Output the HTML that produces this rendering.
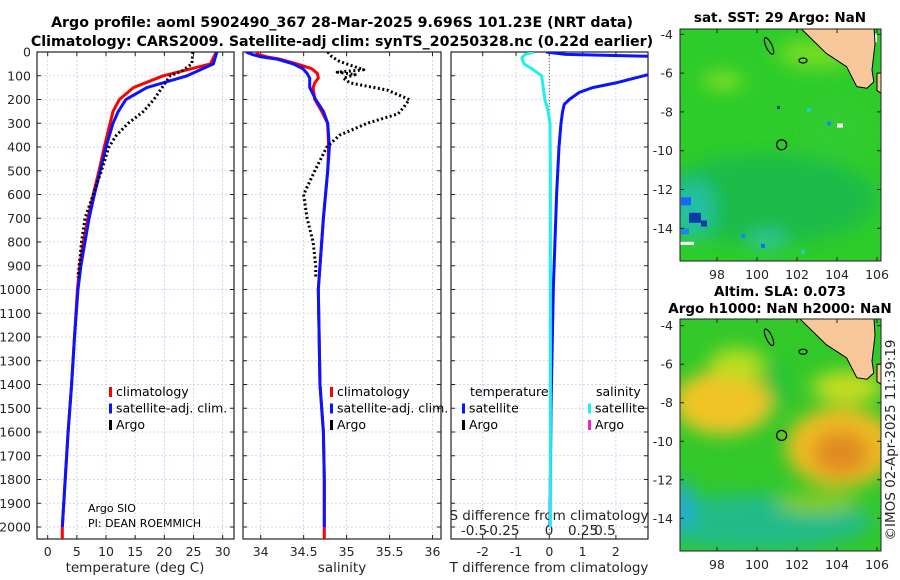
<!DOCTYPE html>
<html><head><meta charset="utf-8"><style>
body{margin:0;background:#fff;}
svg{display:block;font-family:"DejaVu Sans","Liberation Sans",sans-serif;}
.t{font-size:12.5px;fill:#262626;}
.ta{font-size:13.5px;fill:#262626;}
.ti{font-size:13.5px;font-weight:bold;fill:#000;}
.tm{font-size:14.2px;font-weight:bold;fill:#000;}
.lg{font-size:12.5px;fill:#000;}
</style></head><body>
<svg id="s" width="900" height="580" viewBox="0 0 900 580">
<defs>
<clipPath id="c1"><rect x="37" y="52" width="197" height="487"/></clipPath>
<clipPath id="c2"><rect x="243" y="52" width="198" height="487"/></clipPath>
<clipPath id="c3"><rect x="451" y="52" width="197" height="487"/></clipPath>
<clipPath id="m1"><rect x="680" y="29" width="201" height="232"/></clipPath>
<clipPath id="m2"><rect x="680" y="319" width="201" height="232"/></clipPath>
<filter id="bl" x="-50%" y="-50%" width="200%" height="200%"><feGaussianBlur stdDeviation="9"/></filter>
</defs>
<text class="tm" x="342" y="27" text-anchor="middle">Argo profile: aoml 5902490_367 28-Mar-2025 9.696S 101.23E (NRT data)</text>
<text class="tm" x="342" y="46" text-anchor="middle">Climatology: CARS2009. Satellite-adj clim: synTS_20250328.nc (0.22d earlier)</text>
<g id="g"></g>
</svg>
<script>
// ---- profile data ----
const depthT = [0,50,100,150,200,250,300,400,500,600,700,800,900,1000,1200,1400,1600,1800,2000,2050];
const climT  = [28.9,27.9,19.8,14.7,12.3,11.2,10.7,9.7,8.8,7.8,6.9,6.1,5.5,5.1,4.6,4.1,3.5,3.0,2.5,2.5];
const satT   = [29.0,28.4,23.9,17.0,13.4,12.1,11.2,10.0,9.0,8.0,7.1,6.4,5.7,5.2,4.6,4.1,3.5,3.0,2.5,2.5];
const depthArgoT = [0,50,80,100,150,200,250,300,350,400,500,600,700,800,900,950];
const argoT  = [24.9,24.7,23.0,21.0,19.6,18.2,16.4,13.8,11.8,10.5,9.2,7.8,6.4,5.8,5.4,5.2];
const depthS = [0,10,20,30,50,70,90,110,130,150,200,250,300,400,500,700,1000,1400,1600,1800,2000,2050];
const climS  = [33.95,33.97,34.07,34.22,34.42,34.59,34.66,34.67,34.63,34.61,34.63,34.71,34.78,34.79,34.78,34.73,34.67,34.69,34.73,34.74,34.74,34.74];
const satS   = [33.83,33.9,34.0,34.19,34.38,34.49,34.54,34.57,34.57,34.57,34.64,34.73,34.78,34.8,34.78,34.73,34.67,34.69,34.73,34.74,34.74,34.74];
const depthArgoS = [0,20,40,60,75,85,95,110,130,160,200,230,260,300,350,400,500,600,700,800,900,950];
const argoS  = [34.78,34.83,34.92,35.08,35.2,34.89,35.1,34.96,35.04,35.47,35.73,35.67,35.6,35.24,34.92,34.77,34.63,34.5,34.54,34.61,34.64,34.64];
const depthD = [0,10,20,40,130,150,170,200,220,250,300,400,600,1000,1500,2000];
const tDiff  = [-0.1,0.5,3.6,4.5,2.0,1.3,0.9,0.6,0.45,0.4,0.35,0.29,0.22,0.12,0.05,0.02];
const depthSD = [0,10,25,50,70,100,200,250,300,500,1000,2000];
const sDiff  = [-0.145,-0.22,-0.25,-0.23,-0.16,-0.07,-0.04,-0.01,0.006,0.01,0.01,0.01];
const yTicks = [0,100,200,300,400,500,600,700,800,900,1000,1100,1200,1300,1400,1500,1600,1700,1800,1900,2000];
const tTicks = [0,5,10,15,20,25,30];
const sTicks = [34,34.5,35,35.5,36];
const dTicks = [-2,-1,0,1,2];
const sdTickLabels = ['-0.5','-0.25','0','0.25','0.5'];
const sdTicks = [-0.5,-0.25,0,0.25,0.5];
const lonTicks = [98,100,102,104,106];
const latTicks = [-4,-6,-8,-10,-12,-14];
const argoLon = [101.23], argoLat = [-9.696];

const yD = d => 52 + d*0.2375;
const xT = t => 47.7 + t*5.833;
const xS = s => 260.7 + (s-34)*85.9;
const xD = v => 549.3 + v*33.3;
const xSD = v => 549.3 + v*110;
const NS='http://www.w3.org/2000/svg';
const G=document.getElementById('g');
function mk(tag,attrs,parent){const e=document.createElementNS(NS,tag);for(const k in attrs)e.setAttribute(k,attrs[k]);(parent||G).appendChild(e);return e;}
function txt(x,y,s,cls,anchor,parent){const e=mk('text',{x:x,y:y,class:cls,'text-anchor':anchor||'start'},parent);e.textContent=s;return e;}

const panels=[{x0:37,x1:234,xs:xT,ticks:tTicks,clip:'c1',name:'temperature-panel'},
              {x0:243,x1:441,xs:xS,ticks:sTicks,clip:'c2',name:'salinity-panel'},
              {x0:451,x1:648,xs:xD,ticks:dTicks,clip:'c3',name:'difference-panel'}];
panels.forEach(p=>{
  const pg=mk('g',{});
  
  
  yTicks.forEach(d=>{mk('line',{x1:p.x0,x2:p.x1,y1:yD(d),y2:yD(d),stroke:'#c9c9ee','stroke-width':0.8,'stroke-dasharray':'2,2'},pg);
    mk('line',{x1:p.x0,x2:p.x0+4,y1:yD(d),y2:yD(d),stroke:'#222'},pg);mk('line',{x1:p.x1-4,x2:p.x1,y1:yD(d),y2:yD(d),stroke:'#222'},pg);});
  p.ticks.forEach(v=>{const x=p.xs(v);mk('line',{x1:x,x2:x,y1:52,y2:539,stroke:'#c9c9ee','stroke-width':0.8,'stroke-dasharray':'2,2'},pg);
    mk('line',{x1:x,x2:x,y1:535,y2:539,stroke:'#222'},pg);mk('line',{x1:x,x2:x,y1:52,y2:56,stroke:'#222'},pg);
    const l=txt(x,556,String(v),'t','middle',pg);
    
    });
  mk('rect',{x:p.x0,y:52,width:p.x1-p.x0,height:487,fill:'none',stroke:'#222','stroke-width':1.2},pg);
});
yTicks.forEach(d=>{const l=txt(31,yD(d)+4.5,String(d),'t','end');
  
  });
[['temperature (deg C)',135],['salinity',342],['T difference from climatology',549]].forEach(a=>{
  const l=txt(a[1],572,a[0],'ta','middle');
  
  });
const st=txt(549,520,'S difference from climatology','ta','middle');


sdTicks.forEach((v,i)=>{const xs=[474,502,549,583,605];const l=txt(xs[i],535,sdTickLabels[i],'ta','middle');
  
  });

function line(xs,vals,depths,color,w,dash,clip,name){
  const pts=vals.map((v,i)=>xs(v).toFixed(1)+','+yD(depths[i]).toFixed(1)).join(' ');
  const e=mk('polyline',{points:pts,fill:'none',stroke:color,'stroke-width':w,'clip-path':'url(#'+clip+')','stroke-linejoin':'round'});
  if(dash)e.setAttribute('stroke-dasharray',dash);
  
  
}
line(xT,climT,depthT,'#ff0000',3,null,'c1','temp-climatology-line');
line(xT,satT,depthT.slice(0,19),'#0a14ff',3,null,'c1','temp-satellite-line');
line(xT,argoT,depthArgoT,'#000',3,'2,2.5','c1','temp-argo-line');
line(xS,climS,depthS,'#ff0000',3,null,'c2','sal-climatology-line');
line(xS,satS.slice(0,21),depthS.slice(0,21),'#0a14ff',3,null,'c2','sal-satellite-line');
line(xS,argoS,depthArgoS,'#000',3,'2,2.5','c2','sal-argo-line');
mk('line',{x1:549.3,x2:549.3,y1:52,y2:539,stroke:'#555','stroke-width':1,'stroke-dasharray':'1,2'});
line(xD,tDiff,depthD,'#0a14ff',3,null,'c3','temp-diff-satellite-line');
line(xSD,sDiff,depthSD,'#22eeee',3,null,'c3','sal-diff-satellite-line');

function legend(x,y,items){items.forEach((it,i)=>{const yy=y+i*16.5;
  const m=mk('rect',{x:x,y:yy-9,width:3,height:10,fill:it[1]});
  
  
  const l=txt(x+7,yy,it[0],'lg');
  
  });}
legend(109,396,[['climatology','#ff0000'],['satellite-adj. clim.','#0a14ff'],['Argo','#000']]);
legend(330,396,[['climatology','#ff0000'],['satellite-adj. clim.','#0a14ff'],['Argo','#000']]);
{const l=txt(470,396,'temperature','lg');}
{const l=txt(596,396,'salinity','lg');}
legend(462,412.5,[['satellite','#0a14ff'],['Argo','#000']]);
legend(588,412.5,[['satellite','#22eeee'],['Argo','#ee22cc']]);
{const l=txt(88,512,'Argo SIO','lg');l.setAttribute('style','font-size:11px');}
{const l=txt(88,527,'PI: DEAN ROEMMICH','lg');l.setAttribute('style','font-size:11px');}

// ---- maps ----
function map(top,bot,latTop,pxLat,clip,name,blobs){
  const xL=lon=>717+(lon-98)*20, yL=lat=>latTop+(-4-lat)*pxLat;
  const mg=mk('g',{});
  
  
  const inner=mk('g',{'clip-path':'url(#'+clip+')'},mg);
  mk('rect',{x:680,y:top,width:201,height:bot-top,fill:blobs.base},inner);
  const bg=mk('g',{filter:'url(#bl)'},inner);
  blobs.list.forEach(b=>mk('ellipse',{cx:xL(b[0]),cy:yL(b[1]),rx:b[2],ry:b[3],fill:b[4]},bg));
  const sg=mk('g',{},inner);
  (blobs.pix||[]).forEach(b=>mk('rect',{x:xL(b[0]),y:yL(b[1]),width:b[2],height:b[3],fill:b[4]},sg));
  const land=[[102.1,-3.6],[103.46,-4.98],[104.48,-5.67],[104.99,-6.7],[105.5,-6.78],[105.84,-6.45],[105.75,-5.84],[105.9,-4.5],[105.85,-3.6]];
  const lp=mk('polygon',{points:land.map(p=>xL(p[0])+','+yL(p[1])).join(' '),fill:'#f8c89a',stroke:'#000','stroke-width':1},inner);
  
  
  mk('polygon',{points:[[106.0,-6.0],[106.3,-6.0],[106.3,-7.1],[106.0,-6.9]].map(p=>xL(p[0])+','+yL(p[1])).join(' '),fill:'#f8c89a',stroke:'#000','stroke-width':1},inner);
  mk('ellipse',{cx:xL(100.6),cy:yL(-4.6),rx:3,ry:9,fill:'none',stroke:'#000','stroke-width':1.2,transform:'rotate(-25 '+xL(100.6)+' '+yL(-4.6)+')'},inner);
  mk('ellipse',{cx:xL(102.3),cy:yL(-5.35),rx:4,ry:2.5,fill:'none',stroke:'#000','stroke-width':1.2},inner);
  argoLon.forEach((lo,i)=>{const c=mk('circle',{cx:xL(lo),cy:yL(argoLat[i]),r:5,fill:'none',stroke:'#000','stroke-width':1.3},mg);
    });
  mk('rect',{x:680,y:top,width:201,height:bot-top,fill:'none',stroke:'#222'},mg);
  latTicks.forEach(v=>{const y=yL(v);mk('line',{x1:680,x2:684,y1:y,y2:y,stroke:'#222'},mg);mk('line',{x1:877,x2:881,y1:y,y2:y,stroke:'#222'},mg);
    const l=txt(673,y+4.5,String(v),'t','end',mg);});
  lonTicks.forEach(v=>{const x=xL(v);mk('line',{x1:x,x2:x,y1:bot-4,y2:bot,stroke:'#222'},mg);mk('line',{x1:x,x2:x,y1:top,y2:top+4,stroke:'#222'},mg);
    const l=txt(x,bot+18,String(v),'t','middle',mg);});
}
map(29,261,34.3,19.4,'m1','sst-map',{base:'#2ecc2a',list:[
  [100.5,-12.5,110,45,'#1cbb48'],[96.8,-13,22,30,'#22c0a0'],[100.5,-14.6,20,10,'#2ec49a'],[103,-5,40,14,'#77dd22'],[98.3,-6.4,20,6,'#aae822'],[104,-9,30,30,'#33cc33']],
  pix:[[96.2,-12.4,10,8,'#1a66ff'],[96.6,-13.2,12,10,'#0a3aa8'],[96.2,-14.0,8,6,'#1a88ee'],[97.2,-13.6,6,6,'#0a3aa8'],[96.15,-14.7,14,3,'#fff'],[104.0,-8.6,6,4,'#fff'],[105.8,-4.0,4,8,'#fff'],[101.0,-7.7,3,3,'#0a3aa8'],[103.5,-8.5,4,4,'#1a88ee'],[102.5,-7.8,4,4,'#22cccc'],[99.2,-14.3,4,4,'#1a88ee'],[100.2,-14.8,4,4,'#1a66ff'],[102.2,-15.1,4,4,'#22cccc']]});
map(319,551,325.7,19.26,'m2','sla-map',{base:'#33c82a',list:[
  [98.3,-8,50,32,'#f0c428'],[104.2,-10.3,55,40,'#eebb22'],[104.2,-10.6,28,22,'#e08a22'],[104.5,-7.2,35,16,'#c8dd22'],[99,-6,28,16,'#bbdd22'],[101,-7,10,25,'#22c040'],
  [100,-14.2,115,28,'#22bb88'],[96.3,-13.3,10,25,'#22aadd'],[103,-13.2,40,10,'#88cc22']]});
{const l=txt(780,22,'sat. SST: 29 Argo: NaN','ti','middle');}
{const l=txt(780,296,'Altim. SLA: 0.073','ti','middle');}
{const l=txt(780,313,'Argo h1000: NaN h2000: NaN','ti','middle');}
{const l=txt(0,0,'©IMOS 02-Apr-2025 11:39:19','ta','middle');l.setAttribute('transform','translate(895,440) rotate(-90)');}
</script>
</body></html>
